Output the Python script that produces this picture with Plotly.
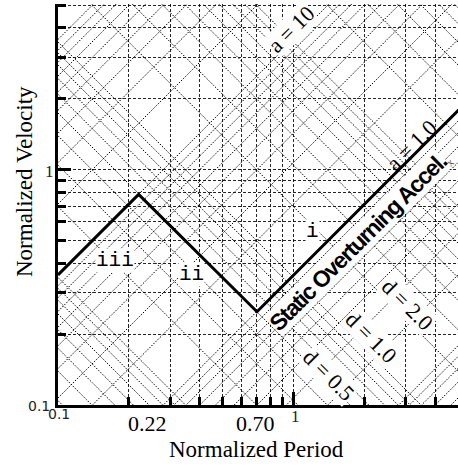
import numpy as np
import plotly.graph_objects as go

# ---- data ----
period = [0.1, 0.22, 0.70, 10.0]          # normalized period at spectrum corners
velocity = [0.357, 0.785, 0.249, 3.56]    # normalized velocity at spectrum corners

acc_const = 0.357    # V = acc_const * a * T
disp_const = 0.348   # V = disp_const * d / T
grid_mult = [1, 2, 3, 4, 5, 6, 7, 8, 9]
grid_decades = [0.01, 0.1, 1, 10, 100]

x_major = [0.1, 1]
x_minor = [0.2, 0.3, 0.4, 0.5, 0.6, 0.7, 0.8, 0.9, 2, 3, 4]
y_major = [0.1, 1]
y_minor = [0.2, 0.3, 0.4, 0.5, 0.6, 0.7, 0.8, 0.9, 2, 3, 4, 5]

grid_vals = [m * d for d in grid_decades for m in grid_mult]

# ---- figure geometry ----
W, H = 458, 466
L, R, T, B = 58, 0, 4, 61
PX_DEC = 235.4
x_rng = [-1, np.log10(5.0)]
y_rng = [-1, -1 + (H - T - B) / PX_DEC]

fig = go.Figure()

# constant-acceleration diagonal grid (slope +1)
ax, ay = [], []
for a in grid_vals:
    for tt in (0.01, 100):
        ax.append(tt); ay.append(acc_const * a * tt)
    ax.append(None); ay.append(None)
fig.add_trace(go.Scatter(x=ax, y=ay, mode="lines", hoverinfo="skip",
                         line=dict(color="black", width=1, dash="1.5px,1.5px")))

# constant-displacement diagonal grid (slope -1)
dx, dy = [], []
for d in grid_vals:
    for tt in (0.01, 100):
        dx.append(tt); dy.append(disp_const * d / tt)
    dx.append(None); dy.append(None)
fig.add_trace(go.Scatter(x=dx, y=dy, mode="lines", hoverinfo="skip",
                         line=dict(color="black", width=1, dash="1.5px,1.5px")))

# spectrum polyline
fig.add_trace(go.Scatter(x=period, y=velocity, mode="lines", hoverinfo="skip",
                         line=dict(color="black", width=3)))

gridcol = "rgba(0,0,0,0.85)"
axis_common = dict(
    type="log", showline=True, linecolor="black", linewidth=3,
    ticks="inside", ticklen=13, tickwidth=3, tickcolor="black",
    showticklabels=False, showgrid=True, gridcolor=gridcol, gridwidth=1,
    griddash="3px,2px", zeroline=False, layer="above traces",
)
fig.update_xaxes(range=x_rng, tickvals=x_major, **axis_common,
                 minor=dict(tickvals=x_minor, ticks="inside", ticklen=8, tickwidth=3,
                            tickcolor="black", showgrid=True, gridcolor=gridcol,
                            gridwidth=1, griddash="3px,2px"))
fig.update_yaxes(range=y_rng, tickvals=y_major, **axis_common,
                 minor=dict(tickvals=y_minor, ticks="inside", ticklen=8, tickwidth=3,
                            tickcolor="black", showgrid=True, gridcolor=gridcol,
                            gridwidth=1, griddash="3px,2px"))

fig.update_layout(width=W, height=H, margin=dict(l=L, r=R, t=T, b=B, pad=0),
                  plot_bgcolor="white", paper_bgcolor="white", showlegend=False)

pw, ph = W - L - R, H - T - B
def px(x): return (x - L) / pw
def py(y): return (H - B - y) / ph

serif = "Liberation Serif"
mono = "Liberation Mono"
ann = []
def plab(text, x, y, font, angle=0):
    ann.append(dict(text=text, x=px(x), y=py(y), xref="paper", yref="paper",
                    xanchor="center", yanchor="middle", showarrow=False,
                    textangle=angle, font=font))

# axis titles
plab("Normalized Period", 256, 449, dict(family=serif, size=23, color="black"))
plab("Normalized Velocity", 24, 182, dict(family=serif, size=23, color="black"), angle=-90)
# tick labels
plab("0.1", 39, 406, dict(family="DejaVu Sans", size=14, color="#222"))
plab("1", 49, 171, dict(family=serif, size=17, color="#222"))
plab("0.1", 59, 414, dict(family="DejaVu Sans", size=14, color="#222"))
plab("1", 295, 416, dict(family=serif, size=17, color="#222"))
plab("0.22", 147, 423, dict(family=serif, size=22, color="black"))
plab("0.70", 255, 423, dict(family=serif, size=22, color="black"))

def dlab(text, t, v, angle, font, bg="white"):
    ann.append(dict(text=text, x=np.log10(t), y=np.log10(v), xref="x", yref="y",
                    xanchor="center", yanchor="middle",
                    showarrow=False, textangle=angle, font=font, bgcolor=bg, borderpad=0))

lab_font = dict(family=serif, size=22, color="black")
dlab("a = 10", 0.977, 3.92, -45, lab_font)
dlab("a = 1.0", 3.16, 1.27, -45, lab_font, bg="rgba(0,0,0,0)")
dlab("d = 2.0", 3.04, 0.266, 45, lab_font)
dlab("d = 1.0", 2.14, 0.193, 45, lab_font)
dlab("d = 0.5", 1.42, 0.134, 45, lab_font)
dlab("iii", 0.1754, 0.411, 0, dict(family=mono, size=21, color="black"))
dlab("ii", 0.369, 0.360, 0, dict(family=mono, size=21, color="black"))
dlab("i", 1.21, 0.546, 0, dict(family=mono, size=21, color="black"))
dlab("<span style='letter-spacing:-1.4px'><b>Static Overturning Accel.</b></span>", 1.88, 0.494, -45,
     dict(family="Liberation Sans", size=23, color="black"))
dlab("x", 4.63, 1.077, -45, dict(family=serif, size=11, color="#444"), bg="rgba(0,0,0,0)")

fig.update_layout(annotations=ann)
fig.write_html("out.html", config={"displayModeBar": False},
               post_script="document.body.style.margin='0';document.body.style.overflow='hidden';")
